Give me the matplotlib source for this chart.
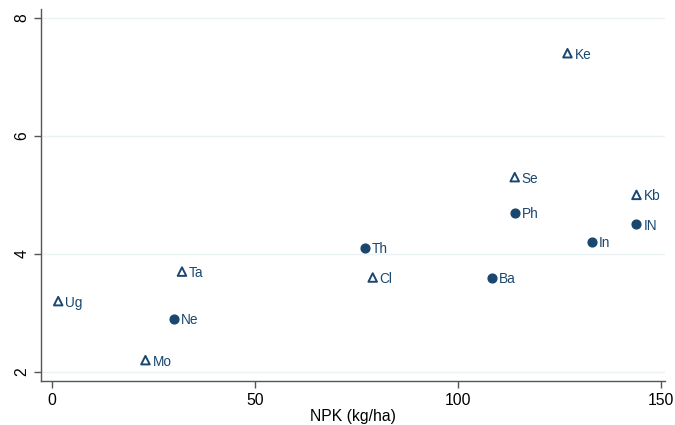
import numpy as np
import matplotlib.pyplot as plt

plt.rcParams['font.family'] = ['Liberation Sans', 'DejaVu Sans']

# filled circles group
circ_lab = ['Ne', 'Th', 'Ba', 'Ph', 'In', 'IN']
circ_x = [30, 77, 108.5, 114, 133, 144]
circ_y = [2.9, 4.1, 3.6, 4.7, 4.2, 4.5]

# hollow triangles group
tri_lab = ['Ug', 'Mo', 'Ta', 'Cl', 'Se', 'Ke', 'Kb']
tri_x = [1.5, 23, 32, 79, 114, 127, 144]
tri_y = [3.2, 2.2, 3.7, 3.6, 5.3, 7.4, 5.0]

navy = '#1a476f'
grid_col = '#eaf2f3'
axis_col = '#555555'

fig = plt.figure(figsize=(6.75, 4.25), dpi=100)
ax = fig.add_axes([0.061, 0.104, 0.924, 0.875])

ax.scatter(circ_x, circ_y, s=40, marker='o', color=navy, zorder=3)
ax.scatter(tri_x, tri_y, s=38, marker='^', facecolors='none',
           edgecolors=navy, linewidths=1.4, zorder=3)

for lab, x, y in zip(circ_lab + tri_lab, circ_x + tri_x, circ_y + tri_y):
    ax.annotate(lab, (x, y), xytext=(5, -1), textcoords='offset points',
                ha='left', va='center', fontsize=9.8, color=navy)

ax.set_xlim(-2.7, 151)
ax.set_ylim(1.85, 8.15)
ax.set_xticks([0, 50, 100, 150])
ax.set_yticks([2, 4, 6, 8])
ax.set_xlabel('NPK (kg/ha)', fontsize=11.3, labelpad=1)

for yv in [2, 4, 6, 8]:
    ax.axhline(yv, color=grid_col, lw=1, zorder=0)

for s in ['top', 'right']:
    ax.spines[s].set_visible(False)
for s in ['left', 'bottom']:
    ax.spines[s].set_color(axis_col)
    ax.spines[s].set_linewidth(1)

ax.tick_params(axis='both', direction='out', length=5, color=axis_col,
               labelsize=11.3, width=1)
for t in ax.get_yticklabels():
    t.set_rotation(90)
    t.set_va('center')

fig.savefig('out.png', dpi=100)
